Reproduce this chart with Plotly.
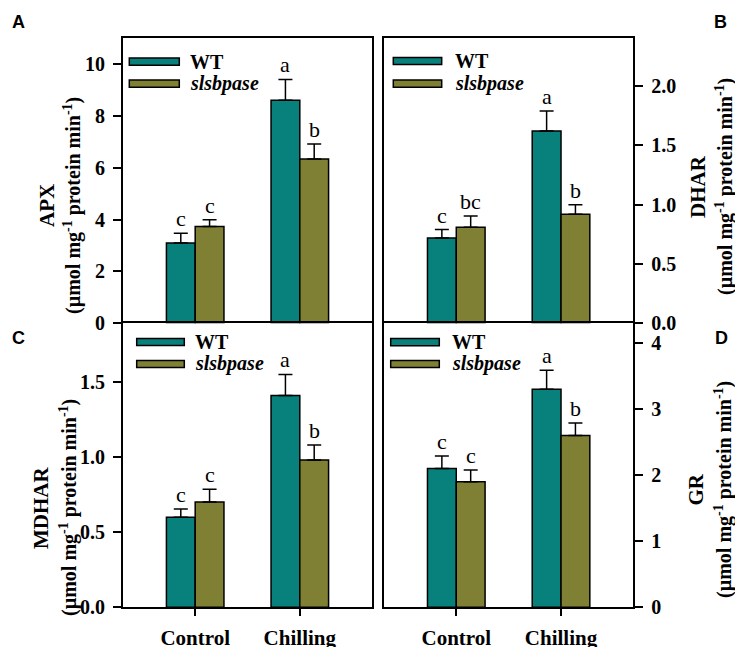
import plotly.graph_objects as go

W, H = 735, 647

categories = ["Control", "Chilling"]

apx_wt = [3.10, 8.60]
apx_wt_err = [0.37, 0.80]
apx_sl = [3.73, 6.33]
apx_sl_err = [0.26, 0.58]
apx_wt_sig = ["c", "a"]
apx_sl_sig = ["c", "b"]

dhar_wt = [0.72, 1.62]
dhar_wt_err = [0.07, 0.17]
dhar_sl = [0.81, 0.92]
dhar_sl_err = [0.095, 0.08]
dhar_wt_sig = ["c", "a"]
dhar_sl_sig = ["bc", "b"]

mdhar_wt = [0.60, 1.41]
mdhar_wt_err = [0.055, 0.14]
mdhar_sl = [0.70, 0.98]
mdhar_sl_err = [0.085, 0.10]
mdhar_wt_sig = ["c", "a"]
mdhar_sl_sig = ["c", "b"]

gr_wt = [2.10, 3.30]
gr_wt_err = [0.19, 0.29]
gr_sl = [1.90, 2.60]
gr_sl_err = [0.18, 0.19]
gr_wt_sig = ["c", "a"]
gr_sl_sig = ["c", "b"]

series_names = ["WT", "slsbpase"]
COL_WT = "#08807B"
COL_SL = "#808034"
SERIF = "Liberation Serif"
SANS = "Liberation Sans"


def px_x(p):
    return p / W


def px_y(p):
    return 1 - p / H


panels = [
    dict(ax="x", ay="y", wt=apx_wt, wte=apx_wt_err, sl=apx_sl, sle=apx_sl_err,
         wts=apx_wt_sig, sls=apx_sl_sig),
    dict(ax="x2", ay="y2", wt=dhar_wt, wte=dhar_wt_err, sl=dhar_sl, sle=dhar_sl_err,
         wts=dhar_wt_sig, sls=dhar_sl_sig),
    dict(ax="x3", ay="y3", wt=mdhar_wt, wte=mdhar_wt_err, sl=mdhar_sl, sle=mdhar_sl_err,
         wts=mdhar_wt_sig, sls=mdhar_sl_sig),
    dict(ax="x4", ay="y4", wt=gr_wt, wte=gr_wt_err, sl=gr_sl, sle=gr_sl_err,
         wts=gr_wt_sig, sls=gr_sl_sig),
]

fig = go.Figure()
annotations = []
BW = 0.275
for p in panels:
    for vals, errs, col, name, sig, off in [
        (p["wt"], p["wte"], COL_WT, series_names[0], p["wts"], -BW / 2),
        (p["sl"], p["sle"], COL_SL, series_names[1], p["sls"], BW / 2),
    ]:
        fig.add_trace(go.Bar(
            x=categories, y=vals, name=name, xaxis=p["ax"], yaxis=p["ay"],
            marker=dict(color=col, line=dict(color="black", width=1.5)),
            error_y=dict(type="data", array=errs, arrayminus=[0] * len(errs),
                         symmetric=False, color="black", thickness=1.5, width=7),
            showlegend=False,
        ))
        for i, (v, e, s) in enumerate(zip(vals, errs, sig)):
            annotations.append(dict(
                x=i + off, y=v + e, xref=p["ax"], yref=p["ay"], text=s,
                showarrow=False, xanchor="center", yanchor="bottom",
                font=dict(family=SERIF, size=22, color="black"),
            ))

ax_left = (123, 372)
ax_right = (384, 633.3)
row_top = (38, 323.3)
row_bot = (323.3, 607.3)

xdom_l = [px_x(ax_left[0]), px_x(ax_left[1])]
xdom_r = [px_x(ax_right[0]), px_x(ax_right[1])]
ydom_t = [px_y(row_top[1]), px_y(row_top[0])]
ydom_b = [px_y(row_bot[1]), px_y(row_bot[0])]

tickfont = dict(family=SERIF, size=20, color="black", weight="bold")
xr = [-0.69, 1.69]


def xaxis(dom, anchor, labels):
    d = dict(domain=dom, anchor=anchor, range=xr, showline=True, linecolor="black",
             linewidth=1.8, showgrid=False, zeroline=False, automargin=False,
             ticks="outside" if labels else "", ticklen=7, tickwidth=1.8,
             tickcolor="black", showticklabels=labels,
             tickfont=dict(family=SERIF, size=21, color="black", weight="bold"),
             ticklabelstandoff=4)
    if labels:
        d["mirror"] = True
    else:
        d["side"] = "top"
        d["mirror"] = False
    return d


def yaxis(dom, anchor, rng, dtick, fmt, side):
    return dict(domain=dom, anchor=anchor, range=rng, dtick=dtick, tickformat=fmt,
                side=side, showline=True, linecolor="black", linewidth=1.8,
                mirror=True, showgrid=False, zeroline=False, automargin=False,
                ticks="outside", ticklen=8, tickwidth=1.8, tickcolor="black",
                tickfont=tickfont, ticklabelstandoff=4)


fig.update_layout(
    width=W, height=H, autosize=False, margin=dict(l=0, r=0, t=0, b=0, pad=0),
    paper_bgcolor="white", plot_bgcolor="white",
    barmode="group", bargap=1 - 2 * BW, bargroupgap=0,
    xaxis=xaxis(xdom_l, "y", False),
    yaxis=yaxis(ydom_t, "x", [0, 11], 2, "d", "left"),
    xaxis2=xaxis(xdom_r, "y2", False),
    yaxis2=yaxis(ydom_t, "x2", [0, 2.405], 0.5, ".1f", "right"),
    xaxis3=xaxis(xdom_l, "y3", True),
    yaxis3=yaxis(ydom_b, "x3", [0, 1.89], 0.5, ".1f", "left"),
    xaxis4=xaxis(xdom_r, "y4", True),
    yaxis4=yaxis(ydom_b, "x4", [0, 4.3], 1, "d", "right"),
)

unit = "<b>(µmol mg<sup>-1</sup> protein min<sup>-1</sup>)</b>"
titles = [
    ("<b>APX</b>", 47, 72, 206),
    ("<b>DHAR</b>", 698, 725, 187),
    ("<b>MDHAR</b>", 41, 68, 508),
    ("<b>GR</b>", 695.5, 723, 490),
]
for name, xn, xu, yc in titles:
    annotations.append(dict(x=px_x(xn), y=px_y(yc), xref="paper", yref="paper",
                            text=name, textangle=-90, showarrow=False,
                            xanchor="center", yanchor="middle",
                            font=dict(family=SERIF, size=21, color="black")))
    annotations.append(dict(x=px_x(xu), y=px_y(yc), xref="paper", yref="paper",
                            text=unit, textangle=-90, showarrow=False,
                            xanchor="center", yanchor="middle",
                            font=dict(family=SERIF, size=20, color="black")))

for letter, x, y in [("A", 18.3, 22.5), ("B", 720, 22.5), ("C", 18.3, 337.5), ("D", 721.7, 337.5)]:
    annotations.append(dict(x=px_x(x), y=px_y(y), xref="paper", yref="paper",
                            text="<b>%s</b>" % letter, showarrow=False,
                            xanchor="center", yanchor="middle",
                            font=dict(family=SANS, size=18, color="black")))

shapes = []
legends = [
    (129.3, 179.3, 61.7, 83.7, 188),
    (393.3, 441.7, 61.0, 83.7, 453.3),
    (136.7, 184.3, 342.0, 364.0, 193.3),
    (390.7, 439.3, 342.2, 364.0, 450),
]
for x0, x1, yw, ys, tx in legends:
    for yc, col, label in [(yw, COL_WT, "<b>%s</b>" % series_names[0]),
                           (ys, COL_SL, "<b><i>%s</i></b>" % series_names[1])]:
        shapes.append(dict(type="rect", xref="paper", yref="paper",
                           x0=px_x(x0), x1=px_x(x1), y0=px_y(yc + 3.6), y1=px_y(yc - 3.6),
                           fillcolor=col, line=dict(color="black", width=1.5)))
        annotations.append(dict(x=px_x(tx), y=px_y(yc), xref="paper", yref="paper",
                                text=label, showarrow=False, xanchor="left", yanchor="middle",
                                font=dict(family=SERIF, size=20, color="black")))

fig.update_layout(annotations=annotations, shapes=shapes)

css_js = (
    "document.documentElement.style.margin='0px';"
    "document.documentElement.style.padding='0px';"
    "document.documentElement.style.overflow='hidden';"
    "document.body.style.margin='0px';"
    "document.body.style.padding='0px';"
    "document.body.style.overflow='hidden';"
)
fig.write_html("out.html", config={"responsive": False, "displayModeBar": False},
               post_script=css_js)
